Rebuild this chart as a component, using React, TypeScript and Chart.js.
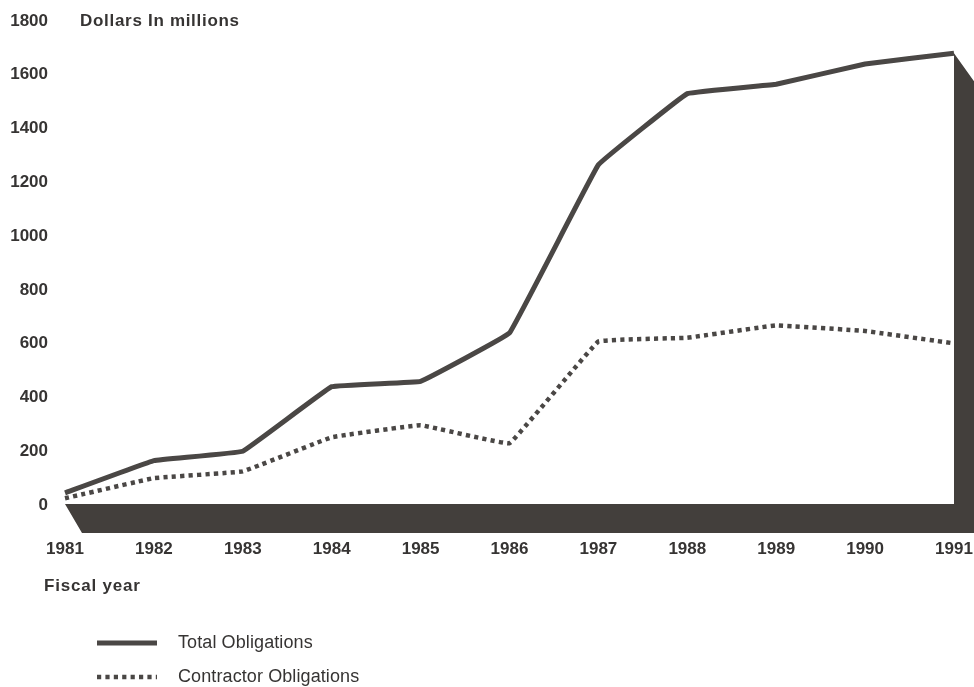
import React, { useEffect, useRef } from "react";
import { Chart, registerables } from "chart.js";

Chart.register(...registerables);

const years = ["1981", "1982", "1983", "1984", "1985", "1986", "1987", "1988", "1989", "1990", "1991"];
const totalObligations = [45, 165, 200, 440, 460, 640, 1265, 1530, 1565, 1640, 1680];
const contractorObligations = [25, 100, 125, 252, 297, 230, 608, 622, 668, 647, 601];
const yAxisTitle = "Dollars In millions";
const xAxisTitle = "Fiscal year";
const seriesNames = ["Total Obligations", "Contractor Obligations"];

const INK = "#4a4745";
const DARK = "#433f3c";
const TEXT = "#363433";
const FAMILY = "'Liberation Sans', Arial, Helvetica, sans-serif";

const depthPlugin = {
  id: "depth",
  beforeDatasetsDraw(chart: any) {
    const { ctx, scales } = chart;
    const x = scales.x;
    const y = scales.y;
    const dx = 20;
    const dy = 28;
    const left = x.getPixelForValue(0);
    const right = x.getPixelForValue(years.length - 1);
    const base = y.getPixelForValue(0);
    const topY = y.getPixelForValue(totalObligations[totalObligations.length - 1]);
    ctx.save();
    ctx.fillStyle = DARK;
    ctx.beginPath();
    ctx.moveTo(left, base - 1);
    ctx.lineTo(right, base - 1);
    ctx.lineTo(right, topY);
    ctx.lineTo(right + dx, topY + dy);
    ctx.lineTo(right + dx, base + dy);
    ctx.lineTo(left + dx - 3, base + dy);
    ctx.closePath();
    ctx.fill();
    ctx.restore();
  },
  afterDraw(chart: any) {
    const { ctx } = chart;
    const d0 = chart.data.datasets[0];
    const d1 = chart.data.datasets[1];
    ctx.save();
    ctx.fillStyle = TEXT;
    ctx.textBaseline = "middle";
    ctx.textAlign = "left";
    ctx.font = `bold 17px ${FAMILY}`;
    (ctx as any).letterSpacing = "0.7px";
    ctx.fillText(yAxisTitle, 80, 21);
    (ctx as any).letterSpacing = "0.8px";
    ctx.fillText(xAxisTitle, 44, 586);
    (ctx as any).letterSpacing = "0.1px";
    ctx.font = `18px ${FAMILY}`;
    const rows = [643, 677];
    [d0, d1].forEach((ds: any, i: number) => {
      const yy = rows[i];
      ctx.save();
      ctx.strokeStyle = ds.borderColor;
      ctx.lineWidth = ds.borderWidth;
      ctx.lineCap = "butt";
      ctx.setLineDash(ds.borderDash || []);
      ctx.beginPath();
      ctx.moveTo(97, yy);
      ctx.lineTo(157, yy);
      ctx.stroke();
      ctx.restore();
      ctx.fillText(seriesNames[i], 178, yy);
    });
    ctx.restore();
  },
};

export default function App() {
  const ref = useRef<HTMLCanvasElement | null>(null);
  useEffect(() => {
    if (!ref.current) return;
    const chart = new Chart(ref.current, {
      type: "line",
      data: {
        labels: years,
        datasets: [
          {
            label: seriesNames[0],
            data: totalObligations,
            borderColor: INK,
            borderWidth: 5,
            pointRadius: 0,
            tension: 0.05,
            borderJoinStyle: "round",
          },
          {
            label: seriesNames[1],
            data: contractorObligations,
            borderColor: INK,
            borderWidth: 4.5,
            borderDash: [4.2, 4.2],
            borderCapStyle: "butt",
            pointRadius: 0,
            tension: 0.05,
          },
        ],
      },
      options: {
        responsive: false,
        animation: false,
        layout: { padding: { left: 0, top: 21, right: 20, bottom: 0 } },
        plugins: { legend: { display: false }, tooltip: { enabled: false } },
        scales: {
          x: {
            offset: false,
            grid: { display: false, drawTicks: false },
            border: { display: false },
            ticks: {
              color: TEXT,
              font: { family: FAMILY, size: 17, weight: "bold" },
              padding: 34,
              maxRotation: 0,
              autoSkip: false,
            },
            afterFit(scale: any) {
              scale.height = 182;
              scale.paddingLeft = 0;
              scale.paddingRight = 0;
            },
          },
          y: {
            min: 0,
            max: 1800,
            grid: { display: false, drawTicks: false },
            border: { display: false },
            ticks: {
              stepSize: 200,
              color: TEXT,
              font: { family: FAMILY, size: 17, weight: "bold" },
              padding: 17,
              callback: (v: any) => String(v),
            },
            afterFit(scale: any) {
              scale.width = 65;
              scale.paddingTop = 0;
              scale.paddingBottom = 0;
            },
          },
        },
      },
      plugins: [depthPlugin],
    } as any);
    return () => chart.destroy();
  }, []);
  return (
    <div style={{ position: "absolute", left: 0, top: 0, width: 974, height: 687, background: "#fff" }}>
      <canvas ref={ref} width={974} height={687} style={{ display: "block" }} />
    </div>
  );
}
